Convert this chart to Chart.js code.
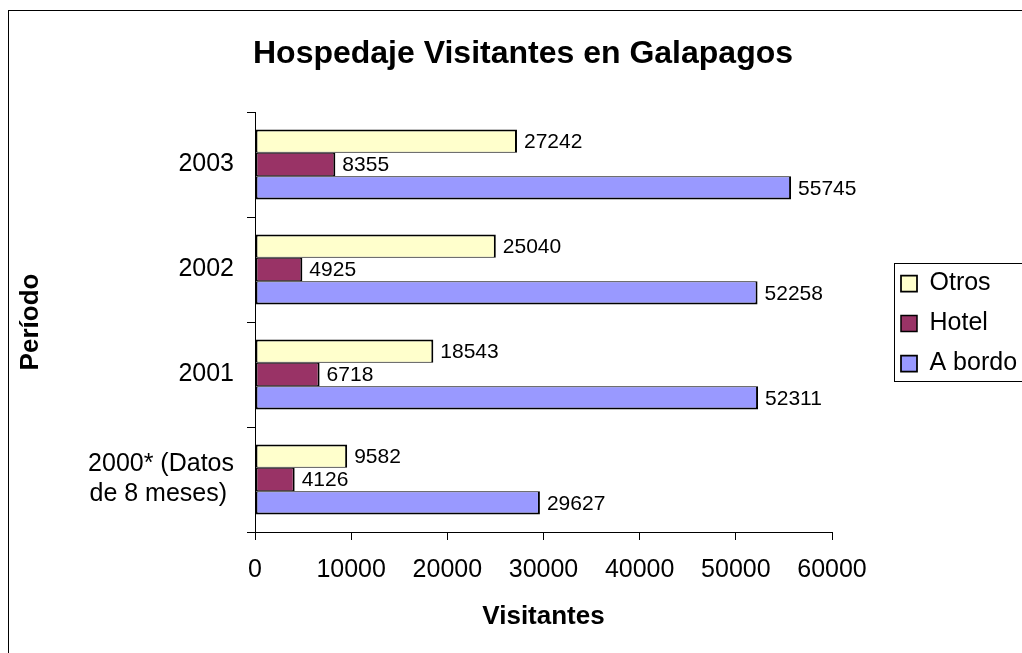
<!DOCTYPE html>
<html>
<head>
<meta charset="utf-8">
<script src="https://cdn.jsdelivr.net/npm/chart.js@4.4.1/dist/chart.umd.min.js"></script>
<style>
html, body { margin: 0; padding: 0; background: #fff; overflow: hidden; width: 1022px; height: 653px; }
#frame { position: absolute; left: 8px; top: 10px; border-left: 1px solid #000; border-top: 1px solid #000; width: 1040px; height: 670px; }
#c { position: absolute; left: 0; top: 0; }
</style>
</head>
<body>
<div id="frame"><canvas id="c" width="1028" height="660"></canvas></div>
<script>
// ---- data ----
const categories = ['2003', '2002', '2001', ['2000* (Datos', 'de 8 meses) ']];
const seriesNames = ['Otros', 'Hotel', 'A bordo'];
const otros = [27242, 25040, 18543, 9582];
const hotel = [8355, 4925, 6718, 4126];
const aBordo = [55745, 52258, 52311, 29627];
const xTicks = [0, 10000, 20000, 30000, 40000, 50000, 60000];
const chartTitle = 'Hospedaje Visitantes en Galapagos';
const xAxisTitle = 'Visitantes';
const yAxisTitle = 'Período';

const FONT = "'Liberation Sans', Arial, Helvetica, sans-serif";
Chart.defaults.font.family = FONT;
Chart.defaults.color = '#000';

const placeLegend = {
  id: 'placeLegend',
  beforeLayout(chart) {
    const lg = chart.legend;
    if (lg && !lg.__patched) {
      const orig = lg.fit.bind(lg);
      lg.fit = function () { orig(); this.width = 205; };
      lg.__patched = true;
    }
  },
  afterLayout(chart) {
    const lg = chart.legend;
    if (!lg) return;
    lg.left = 877; lg.right = chart.width;
    lg.top = 245; lg.bottom = chart.height;
    lg.width = lg.right - lg.left; lg.height = lg.bottom - lg.top;
  },
  afterDraw(chart) {
    const ctx = chart.ctx;
    ctx.save();
    ctx.strokeStyle = '#000';
    ctx.lineWidth = 1;
    ctx.strokeRect(885.5, 252.5, chart.width, 118);
    ctx.restore();
  }
};

const valueLabels = {
  id: 'valueLabels',
  afterDatasetsDraw(chart) {
    const ctx = chart.ctx;
    ctx.save();
    ctx.font = '21px ' + FONT;
    ctx.fillStyle = '#000';
    ctx.textAlign = 'left';
    ctx.textBaseline = 'middle';
    chart.data.datasets.forEach((ds, i) => {
      chart.getDatasetMeta(i).data.forEach((bar, j) => {
        ctx.fillText(String(ds.data[j]), bar.x + 7, bar.y + 1);
      });
    });
    ctx.restore();
  }
};

new Chart(document.getElementById('c'), {
  type: 'bar',
  data: {
    labels: categories,
    datasets: [
      { label: seriesNames[0], data: otros, backgroundColor: '#FFFFCC', borderColor: '#000',
        borderWidth: { top: 2, bottom: 1, left: 2, right: 2 }, borderSkipped: false },
      { label: seriesNames[1], data: hotel, backgroundColor: '#993366', borderColor: '#000',
        borderWidth: { top: 1, bottom: 1, left: 2, right: 2 }, borderSkipped: false },
      { label: seriesNames[2], data: aBordo, backgroundColor: '#9999FF', borderColor: '#000',
        borderWidth: { top: 1, bottom: 2, left: 2, right: 2 }, borderSkipped: false }
    ]
  },
  options: {
    indexAxis: 'y',
    responsive: false,
    animation: false,
    devicePixelRatio: 1,
    categoryPercentage: 0.667,
    barPercentage: 1.0,
    layout: { padding: { top: 0, left: 0, right: 0, bottom: 39 } },
    plugins: {
      title: {
        display: true, text: chartTitle, color: '#000',
        font: { size: 32, weight: 'bold' },
        padding: { top: 23.8, bottom: 38.8 }
      },
      legend: {
        display: true, position: 'right', align: 'start',
        labels: { boxWidth: 16, boxHeight: 16, padding: 15, color: '#000', font: { size: 25 } }
      },
      tooltip: { enabled: false }
    },
    scales: {
      x: {
        type: 'linear', position: 'bottom', min: 0, max: 60000,
        afterBuildTicks: s => { s.ticks = xTicks.map(v => ({ value: v })); },
        afterFit: s => { s.height = 100; },
        grid: { drawOnChartArea: false, drawTicks: true, tickLength: 8, color: '#000', lineWidth: 1 },
        border: { display: true, color: '#000', width: 1 },
        ticks: { padding: 15, color: '#000', font: { size: 25 }, maxRotation: 0, autoSkip: false,
                 callback: v => String(v) },
        title: { display: true, text: xAxisTitle, color: '#000', font: { size: 26, weight: 'bold' },
                 padding: { top: 0, bottom: 0 } }
      },
      y: {
        type: 'category', position: 'left', offset: true,
        afterFit: s => { s.width = 246; },
        grid: { drawOnChartArea: false, drawTicks: true, tickLength: 8, color: '#000', offset: true },
        border: { display: true, color: '#000', width: 1 },
        ticks: { padding: 13, color: '#000', font: { size: 25 }, autoSkip: false },
        title: { display: true, text: yAxisTitle, color: '#000', font: { size: 26, weight: 'bold' },
                 padding: { top: 6, bottom: 0 } }
      }
    }
  },
  plugins: [placeLegend, valueLabels]
});
</script>
</body>
</html>
